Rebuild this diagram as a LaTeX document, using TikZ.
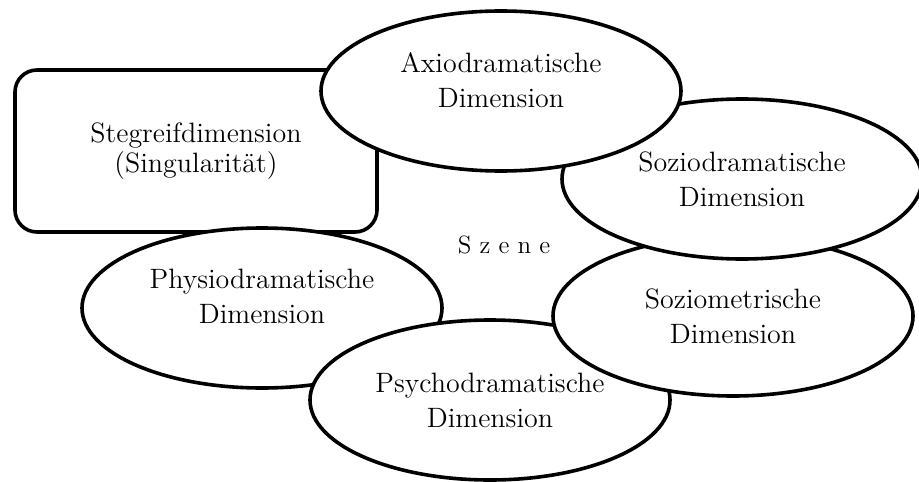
\documentclass[tikz,border=0pt]{standalone}
\usetikzlibrary{positioning, shapes.geometric}
\newcommand{\dimfont}{\fontsize{14}{17.5}\selectfont}
\tikzset{
    bigbox/.style={draw, line width=1.8pt, rounded corners=11pt, fill=white, minimum width=181pt, minimum height=81pt, align=center, font=\fontsize{14}{15}\selectfont},
    bigellipse/.style={draw, ellipse, line width=1.8pt, fill=white, minimum width=180pt, minimum height=80pt, inner sep=0pt, align=center, font=\dimfont},
    liftup/.style={execute at end node={\rule[-#1]{0pt}{0pt}}},
    sinkdown/.style={execute at begin node={\rule{0pt}{#1}}},
    place/.style={inner sep=0pt, outer sep=0pt}
}
\begin{document}
\begin{tikzpicture}[x=0.5pt, y=-0.5pt]
	\useasboundingbox (0,0) rectangle (919,481);
	\node(Stegreif)[bigbox, liftup=2pt] at (196,151) {Stegreifdimension\\(Singularität)};
	\node(Physio)[bigellipse, liftup=12pt] at (262,308) {Physiodramatische\\Dimension};
	\node(Psycho)[bigellipse, sinkdown=15.7pt] at (490,400) {Psychodramatische\\Dimension};
	\node(Soziomet)[bigellipse, sinkdown=12.7pt] at (733,316) {Soziometrische\\Dimension};
	\node(Soziodram)[bigellipse] at (742,179) {Soziodramatische\\Dimension};
	\node(Axio)[bigellipse, liftup=10.5pt] at (501,91) {Axiodramatische\\Dimension};
	\node(Szene)[place, font=\fontsize{12.5}{15}\selectfont] at (504,245) {S z e n e};
\end{tikzpicture}
\end{document}
